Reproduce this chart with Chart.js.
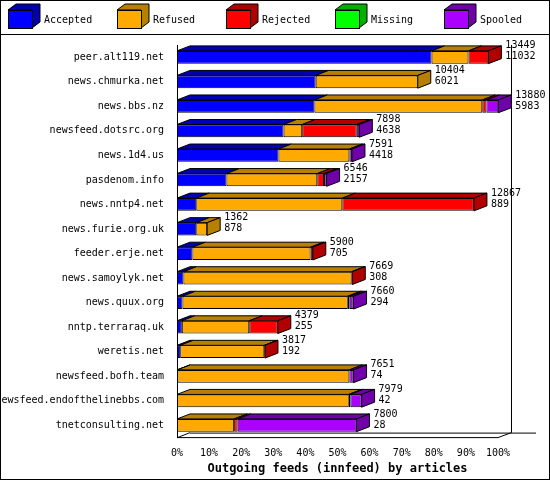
<!DOCTYPE html>
<html>
<head>
<meta charset="utf-8">
<script src="https://cdn.jsdelivr.net/npm/chart.js@4"></script>
<style>
body { margin: 0; background: #fff; }
#wrap { width: 550px; height: 480px; }
</style>
</head>
<body>
<div id="wrap"><canvas id="grafico" width="550" height="480"></canvas></div>
<script>
// Outgoing feeds (innfeed) by articles

var servidores = ['peer.alt119.net', 'news.chmurka.net', 'news.bbs.nz', 'newsfeed.dotsrc.org',
    'news.1d4.us', 'pasdenom.info', 'news.nntp4.net', 'news.furie.org.uk', 'feeder.erje.net',
    'news.samoylyk.net', 'news.quux.org', 'nntp.terraraq.uk', 'weretis.net', 'newsfeed.bofh.team',
    'newsfeed.endofthelinebbs.com', 'tnetconsulting.net'];
var aceptados = [79.3, 43.2, 42.8, 33.2, 31.6, 15.4, 6.0, 6.0, 4.8, 2.0, 1.7, 1.5, 1.0, 0.1, 0, 0];
var rechazadosRef = [11.5, 31.8, 52.3, 5.8, 22.1, 28.3, 45.5, 3.4, 36.8, 52.4, 51.5, 21.0, 26.2, 53.6, 53.5, 17.8];
var rechazados = [6.2, 0, 1.3, 17.0, 0, 2.1, 41.0, 0, 0.7, 0.2, 0.6, 8.9, 0.2, 0, 0.5, 1.1];
var faltantes = [0, 0, 0, 0, 0, 0, 0, 0, 0, 0, 0, 0, 0, 0, 0, 0];
var encolados = [0, 0, 3.7, 0.8, 0.8, 0.8, 0, 0, 0, 0, 1.2, 0, 0, 1.3, 3.5, 37.0];
var totales = [13449, 10404, 13880, 7898, 7591, 6546, 12867, 1362, 5900, 7669, 7660, 4379, 3817, 7651, 7979, 7800];
var segundos = [11032, 6021, 5983, 4638, 4418, 2157, 889, 878, 705, 308, 294, 255, 192, 74, 42, 28];
var porcentajes = ['0%', '10%', '20%', '30%', '40%', '50%', '60%', '70%', '80%', '90%', '100%'];

var series = [
    { nombre: 'Accepted', datos: aceptados, color: '#0000ff', oscuro: '#0000b0' },
    { nombre: 'Refused', datos: rechazadosRef, color: '#ffaa00', oscuro: '#b88000' },
    { nombre: 'Rejected', datos: rechazados, color: '#ff0000', oscuro: '#b00000' },
    { nombre: 'Missing', datos: faltantes, color: '#00ff00', oscuro: '#00b000' },
    { nombre: 'Spooled', datos: encolados, color: '#aa00ff', oscuro: '#7000a8' }
];

var DX = 13, DY = 5;
var fuente = '10px "DejaVu Sans Mono", monospace';

var plugin3d = {
    id: 'plugin3d',
    beforeDraw: function(chart) {
        var c = chart.ctx;
        c.save();
        c.fillStyle = '#fff';
        c.fillRect(0, 0, 550, 480);
        c.restore();
    },
    afterDatasetsDraw: function(chart) {
        var c = chart.ctx;
        var area = chart.chartArea;
        c.save();
        c.strokeStyle = '#000';
        c.lineWidth = 1;
        // pared del fondo y piso
        c.beginPath();
        c.moveTo(area.left + 0.5, area.top);
        c.lineTo(area.left + 0.5, area.bottom);
        c.lineTo(area.left + DX, area.bottom - DY);
        c.moveTo(area.right + DX + 0.5, area.top);
        c.lineTo(area.right + DX + 0.5, area.bottom - DY);
        c.lineTo(area.right, area.bottom);
        c.lineTo(area.left, area.bottom);
        c.moveTo(area.left + DX, area.bottom - DY + 0.5);
        c.lineTo(area.right + DX + 25, area.bottom - DY + 0.5);
        c.stroke();

        for (var i = 0; i < servidores.length; i++) {
            var ultimo = -1;
            for (var d = 0; d < series.length; d++) {
                var el = chart.getDatasetMeta(d).data[i];
                if (series[d].datos[i] <= 0) continue;
                ultimo = d;
                var x0 = Math.min(el.base, el.x), x1 = Math.max(el.base, el.x);
                var yt = el.y - el.height / 2;
                c.fillStyle = series[d].oscuro;
                c.beginPath();
                c.moveTo(x0, yt);
                c.lineTo(x0 + DX, yt - DY);
                c.lineTo(x1 + DX, yt - DY);
                c.lineTo(x1, yt);
                c.closePath();
                c.fill();
                c.stroke();
            }
            if (ultimo >= 0) {
                var e = chart.getDatasetMeta(ultimo).data[i];
                var xr = Math.max(e.base, e.x);
                var yt2 = e.y - e.height / 2, yb = e.y + e.height / 2;
                c.fillStyle = series[ultimo].oscuro;
                c.beginPath();
                c.moveTo(xr, yt2);
                c.lineTo(xr + DX, yt2 - DY);
                c.lineTo(xr + DX, yb - DY);
                c.lineTo(xr, yb);
                c.closePath();
                c.fill();
                c.stroke();
                c.fillStyle = '#000';
                c.font = fuente;
                c.textAlign = 'left';
                c.textBaseline = 'middle';
                c.fillText(String(totales[i]), xr + DX + 4, yt2 - 5);
                c.fillText(String(segundos[i]), xr + DX + 4, yt2 + 6);
            }
        }

        // leyenda
        c.strokeRect(0.5, 0.5, 549, 34);
        for (var k = 0; k < series.length; k++) {
            var lx = 8 + k * 109, ly = 10;
            c.fillStyle = series[k].oscuro;
            c.beginPath();
            c.moveTo(lx, ly); c.lineTo(lx + 8, ly - 6); c.lineTo(lx + 32, ly - 6);
            c.lineTo(lx + 32, ly + 12); c.lineTo(lx + 24, ly + 18); c.lineTo(lx + 24, ly);
            c.closePath(); c.fill(); c.stroke();
            c.fillStyle = series[k].color;
            c.fillRect(lx, ly, 24, 18);
            c.strokeRect(lx + 0.5, ly + 0.5, 24, 18);
            c.fillStyle = '#000';
            c.font = fuente;
            c.textAlign = 'left';
            c.textBaseline = 'middle';
            c.fillText(series[k].nombre, lx + 36, 20);
        }
        c.strokeRect(0.5, 0.5, 549, 479);
        c.restore();
    }
};

var datasets = [];
for (var d = 0; d < series.length; d++) {
    datasets.push({
        label: series[d].nombre,
        data: series[d].datos,
        backgroundColor: series[d].color,
        borderColor: '#000',
        borderWidth: 1,
        borderSkipped: false,
        categoryPercentage: 1,
        barPercentage: 0.52
    });
}

new Chart(document.getElementById('grafico'), {
    type: 'bar',
    data: { labels: servidores, datasets: datasets },
    plugins: [plugin3d],
    options: {
        responsive: false,
        animation: false,
        indexAxis: 'y',
        layout: { padding: { top: 45, right: 52, bottom: 4, left: 0 } },
        plugins: { legend: { display: false }, tooltip: { enabled: false } },
        scales: {
            x: {
                stacked: true, min: 0, max: 100,
                grid: { display: false, drawTicks: true },
                border: { display: false },
                ticks: {
                    stepSize: 10, color: '#000', font: { family: 'DejaVu Sans Mono', size: 10 },
                    maxRotation: 0, padding: 2,
                    callback: function(v, idx) { return porcentajes[idx]; }
                },
                title: {
                    display: true, text: 'Outgoing feeds (innfeed) by articles', color: '#000',
                    font: { family: 'DejaVu Sans Mono', size: 12, weight: 'bold' }, padding: { top: 0, bottom: 0 }
                }
            },
            y: {
                stacked: true,
                grid: { display: false },
                border: { display: false },
                afterFit: function(s) { s.width = 177; },
                ticks: { color: '#000', font: { family: 'DejaVu Sans Mono', size: 10 }, padding: 5 }
            }
        }
    }
});
</script>
</body>
</html>
